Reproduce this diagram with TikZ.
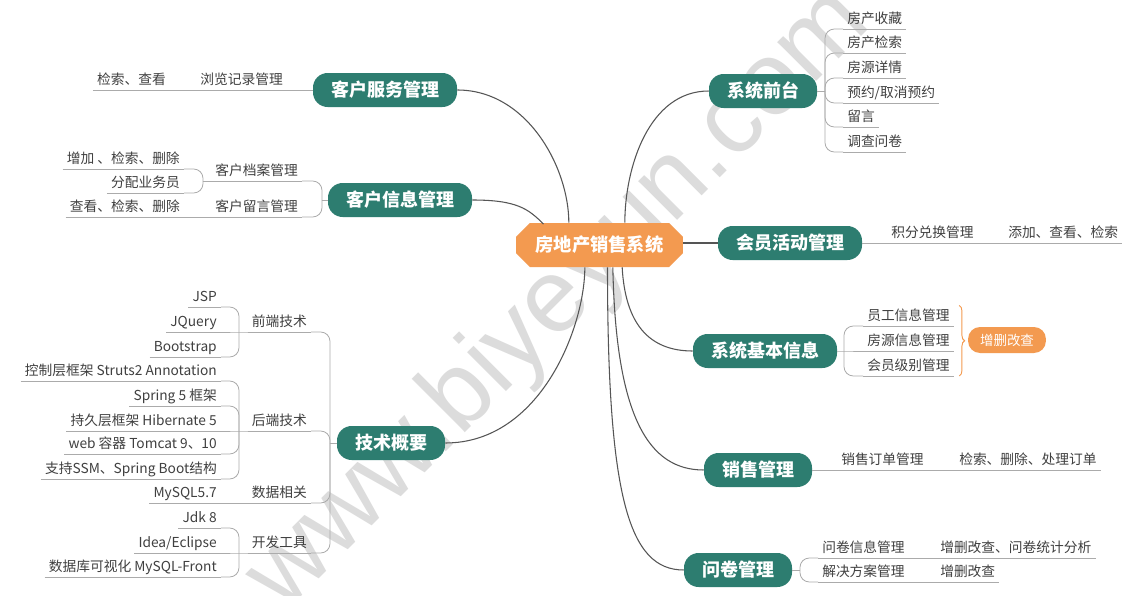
\documentclass[tikz,border=0pt]{standalone}
\usepackage{fontspec}
\setmainfont{Noto Sans CJK SC}
\newfontfamily\wmfont{Liberation Sans}
\usetikzlibrary{shapes.misc, decorations.pathreplacing}

\definecolor{mgreen}{HTML}{2D7D70}
\definecolor{rorange}{HTML}{F39A50}
\definecolor{txtgray}{HTML}{404040}
\definecolor{lgray}{HTML}{ABABAB}
\definecolor{cgray}{HTML}{555555}
\definecolor{wmgray}{HTML}{DCDCDC}

\begin{document}
\begin{tikzpicture}[x=0.75pt, y=-0.75pt,
    root/.style={chamfered rectangle, chamfered rectangle xsep=7pt, fill=rorange, text=white,
        font=\fontsize{13.7}{16}\selectfont\bfseries, minimum width=125pt, minimum height=33pt, inner sep=0pt},
    branch/.style={fill=mgreen, text=white, font=\fontsize{13.5}{16}\selectfont\bfseries,
        rounded corners=11pt, minimum height=25.5pt, inner xsep=13.5pt, inner ysep=0pt},
    topic/.style={text=txtgray, font=\fontsize{10.3}{12}\selectfont, inner xsep=3pt, inner ysep=2.4pt,
        text height=9pt, text depth=1.2pt,
        append after command={(\tikzlastnode.south west) edge[subline] (\tikzlastnode.south east)}},
    conn/.style={draw=cgray, line width=0.8pt},
    subline/.style={draw=lgray, line width=0.6pt},
    forkline/.style={subline, rounded corners=7pt},
    summary/.style={fill=rorange, text=white, font=\fontsize{10.1}{12}\selectfont,
        rounded corners=9pt, minimum height=19.5pt, inner xsep=9pt, inner ysep=0pt},
    sumbrace/.style={draw=rorange, line width=0.7pt, decorate, decoration={brace, amplitude=4pt}}]

    % Page and watermark
    \useasboundingbox (0,0) rectangle (1140,596);
    \clip (0,0) rectangle (1140,596);
    \fill[white] (0,0) rectangle (1140,596);
    \node[rotate=45, text=wmgray, font=\wmfont\fontsize{78}{80}\selectfont] (wmark) at (560,300) {www.biyeyun.com};

    % Root and main branches
    \node[root] (root) at (599.5,245) {房地产销售系统};

    \node[branch] (khfw) at (385,90) {客户服务管理};
    \node[branch] (khxx) at (400,200) {客户信息管理};
    \node[branch] (jsgy) at (391,443) {技术概要};
    \node[branch] (xtqt) at (763,91) {系统前台};
    \node[branch] (hyhd) at (790,243) {会员活动管理};
    \node[branch] (xtjb) at (765,351) {系统基本信息};
    \node[branch] (xsgl) at (758,470) {销售管理};
    \node[branch] (wjgl) at (738,570) {问卷管理};

    \draw[conn] (khfw.east) .. controls +(70,0) and +(0,-55) .. ([xshift=-23pt]root.north);
    \draw[conn] (khxx.east) .. controls +(45,0) and +(-15,-15) .. ([xshift=-42pt,yshift=-1pt]root.north);
    \draw[conn] (jsgy.east) .. controls +(95,0) and +(0,60) .. ([xshift=-11pt]root.south);
    \draw[conn] (xtqt.west) .. controls +(-60,0) and +(0,-55) .. ([xshift=19pt]root.north);
    \draw[conn] (root.east |- hyhd.west) -- (hyhd.west);
    \draw[conn] ([xshift=17pt]root.south) .. controls +(3,55) and +(-45,0) .. (xtjb.west);
    \draw[conn] ([xshift=10pt]root.south) .. controls +(3,150) and +(-55,0) .. (xsgl.west);
    \draw[conn] ([xshift=6pt]root.south) .. controls +(0,230) and +(-55,0) .. (wjgl.west);

    % 客户服务管理
    \node[topic, anchor=south east] (llgl) at (287,90) {浏览记录管理};
    \node[topic, anchor=south east] (jsck) at (170,90) {检索、查看};
    \draw[subline] (khfw.west) -- (llgl.south east);
    \draw[subline] (llgl.south west) -- (jsck.south east);

    % 客户信息管理
    \node[topic, anchor=south east] (khda) at (302,181) {客户档案管理};
    \node[topic, anchor=south east] (khly) at (302,217) {客户留言管理};
    \node[topic, anchor=south east] (zjjs) at (184,169) {增加 、检索、删除};
    \node[topic, anchor=south east] (fpyw) at (184,193) {分配业务员};
    \node[topic, anchor=south east] (ckjs) at (184,217) {查看、检索、删除};
    \coordinate (khxxf) at (322,200);
    \coordinate (khdaf) at (203,181);
    \draw[subline] (khxx.west) -- (khxxf);
    \draw[forkline] (khxxf) |- (khda.south east);
    \draw[forkline] (khxxf) |- (khly.south east);
    \draw[subline] (khda.south west) -- (khdaf);
    \draw[forkline] (khdaf) |- (zjjs.south east);
    \draw[forkline] (khdaf) |- (fpyw.south east);
    \draw[subline] (khly.south west) -- (ckjs.south east);

    % 技术概要
    \node[topic, anchor=south east] (qdjs) at (311,332) {前端技术};
    \node[topic, anchor=south east] (hdjs) at (311,431) {后端技术};
    \node[topic, anchor=south east] (sjxg) at (311,503) {数据相关};
    \node[topic, anchor=south east] (kfgj) at (311,553) {开发工具};
    \coordinate (jsgyf) at (330,443);
    \draw[subline] (jsgy.west) -- (jsgyf);
    \foreach \t in {qdjs, hdjs, sjxg, kfgj}
        \draw[forkline] (jsgyf) |- (\t.south east);

    \node[topic, anchor=south east] (jsp) at (221,307) {JSP};
    \node[topic, anchor=south east] (jquery) at (221,332) {JQuery};
    \node[topic, anchor=south east] (bootstrap) at (221,357) {Bootstrap};
    \coordinate (qdjsf) at (239,332);
    \draw[subline] (qdjs.south west) -- (qdjsf) -- (jquery.south east);
    \draw[forkline] (qdjsf) |- (jsp.south east);
    \draw[forkline] (qdjsf) |- (bootstrap.south east);

    \node[topic, anchor=south east] (struts) at (221,381) {控制层框架 Struts2 Annotation};
    \node[topic, anchor=south east] (spring) at (221,406) {Spring 5 框架};
    \node[topic, anchor=south east] (hibernate) at (221,431) {持久层框架 Hibernate 5};
    \node[topic, anchor=south east] (tomcat) at (221,454) {web 容器 Tomcat 9、10};
    \node[topic, anchor=south east] (ssm) at (221,479) {支持SSM、Spring Boot结构};
    \coordinate (hdjsf) at (239,431);
    \draw[subline] (hdjs.south west) -- (hdjsf) -- (hibernate.south east);
    \foreach \t in {struts, spring, tomcat, ssm}
        \draw[forkline] (hdjsf) |- (\t.south east);

    \node[topic, anchor=south east] (mysql) at (221,503) {MySQL5.7};
    \draw[subline] (sjxg.south west) -- (mysql.south east);

    \node[topic, anchor=south east] (jdk) at (221,528) {Jdk 8};
    \node[topic, anchor=south east] (idea) at (221,553) {Idea/Eclipse};
    \node[topic, anchor=south east] (front) at (221,577) {数据库可视化 MySQL-Front};
    \coordinate (kfgjf) at (239,553);
    \draw[subline] (kfgj.south west) -- (kfgjf) -- (idea.south east);
    \draw[forkline] (kfgjf) |- (jdk.south east);
    \draw[forkline] (kfgjf) |- (front.south east);

    % 系统前台
    \node[topic, anchor=south west] (fcsc) at (843,29) {房产收藏};
    \node[topic, anchor=south west] (fcjs) at (843,53) {房产检索};
    \node[topic, anchor=south west] (fyxq) at (843,78) {房源详情};
    \node[topic, anchor=south west] (yyqx) at (843,103) {预约/取消预约};
    \node[topic, anchor=south west] (ly) at (843,127) {留言};
    \node[topic, anchor=south west] (dcwj) at (843,152) {调查问卷};
    \coordinate (xtqtf) at (825,91);
    \draw[subline] (xtqt.east) -- (xtqtf);
    \foreach \t in {fcsc, fcjs, fyxq, yyqx, ly, dcwj}
        \draw[forkline] (xtqtf) |- (\t.south west);

    % 会员活动管理
    \node[topic, anchor=south west] (jfdh) at (887,243) {积分兑换管理};
    \node[topic, anchor=south west] (tjck) at (1004,243) {添加、查看、检索};
    \draw[subline] (hyhd.east) -- (jfdh.south west);
    \draw[subline] (jfdh.south east) -- (tjck.south west);

    % 系统基本信息
    \node[topic, anchor=south west] (ygxx) at (863,326) {员工信息管理};
    \node[topic, anchor=south west] (fyxx) at (863,351) {房源信息管理};
    \node[topic, anchor=south west] (hyjb) at (863,376) {会员级别管理};
    \coordinate (xtjbf) at (844,351);
    \draw[subline] (xtjb.east) -- (xtjbf) -- (fyxx.south west);
    \draw[forkline] (xtjbf) |- (ygxx.south west);
    \draw[forkline] (xtjbf) |- (hyjb.south west);
    \draw[sumbrace] ([xshift=4pt]ygxx.north east) -- ([xshift=4pt]hyjb.south east);
    \node[summary] (zsgc) at (1007,340) {增删改查};

    % 销售管理
    \node[topic, anchor=south west] (xsdd) at (837,470) {销售订单管理};
    \node[topic, anchor=south west] (jscl) at (955,470) {检索、删除、处理订单};
    \draw[subline] (xsgl.east) -- (xsdd.south west);
    \draw[subline] (xsdd.south east) -- (jscl.south west);

    % 问卷管理
    \node[topic, anchor=south west] (wjxx) at (818,558) {问卷信息管理};
    \node[topic, anchor=south west] (jjfa) at (818,582) {解决方案管理};
    \node[topic, anchor=south west] (wjtj) at (936,558) {增删改查、问卷统计分析};
    \node[topic, anchor=south west] (jjzs) at (936,582) {增删改查};
    \coordinate (wjglf) at (800,570);
    \draw[subline] (wjgl.east) -- (wjglf);
    \draw[forkline] (wjglf) |- (wjxx.south west);
    \draw[forkline] (wjglf) |- (jjfa.south west);
    \draw[subline] (wjxx.south east) -- (wjtj.south west);
    \draw[subline] (jjfa.south east) -- (jjzs.south west);
\end{tikzpicture}
\end{document}
